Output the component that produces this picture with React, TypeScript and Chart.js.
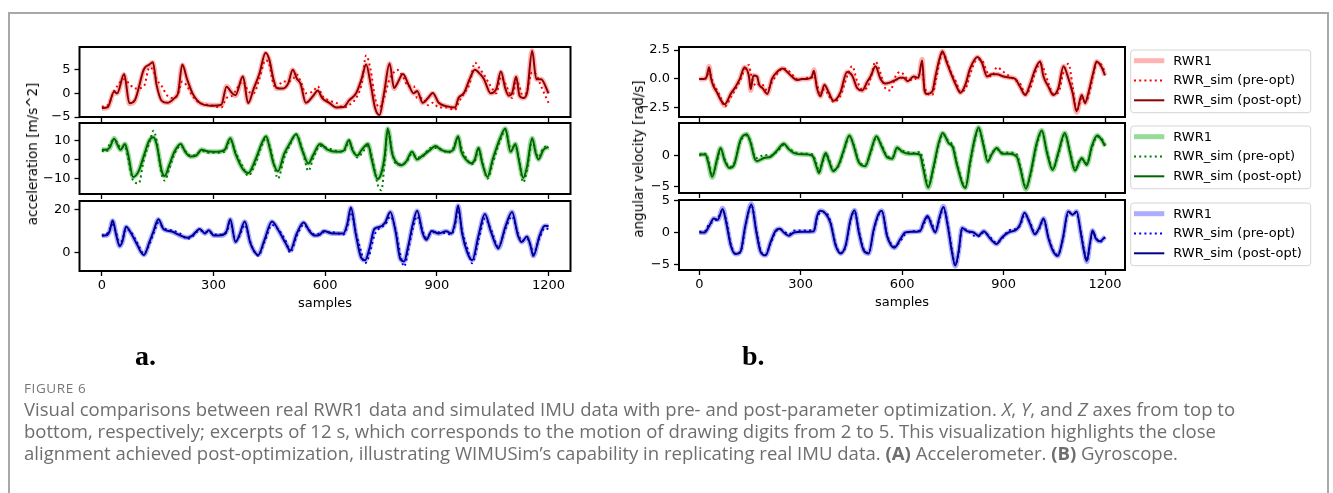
import React, { useEffect, useLayoutEffect, useRef, useState } from 'react';
import { Chart, registerables } from 'chart.js';

Chart.register(...registerables);

const W = 1333;
const H = 493;
const FONT = "'DejaVu Sans', 'Liberation Sans', sans-serif";
const X_MIN = -60;
const X_MAX = 1259;
const X_TICKS = [0, 300, 600, 900, 1200];
const LEGEND_LABELS = ['RWR1', 'RWR_sim (pre-opt)', 'RWR_sim (post-opt)'];

// ---------- (a) accelerometer, X axis ----------
const accXSamples = [0,16,33,41,60,74,89,113,128,137,
  147,161,176,195,205,216,229,243,263,292,
  321,335,350,359,379,393,408,423,440,450,
  461,470,485,500,513,524,534,548,568,580,
  592,611,630,650,664,683,698,710,722,734,
  746,758,773,785,793,809,823,838,847,862,
  876,889,905,925,949,958,973,988,1002,1017,
  1026,1045,1060,1072,1084,1093,1102,1113,1122,1132,
  1142,1156,1167,1180,1200];
const accXReal = [-3.2,-3.0,0.3,0.0,4.0,-2.2,-1.5,5.0,6.0,6.5,
  2.0,-1.5,-2.0,-1.0,0.2,6.0,3.0,0.0,-2.0,-2.5,
  -2.5,1.5,0.0,-0.5,3.5,-2.0,1.0,4.0,8.5,7.0,
  3.0,1.0,1.0,2.0,5.0,3.0,2.0,-2.0,-0.5,0.5,
  -1.0,-2.0,-3.0,-2.8,-1.5,0.0,3.0,6.0,2.0,-3.0,
  -4.5,0.0,6.3,1.0,2.0,4.0,2.0,0.0,0.5,-2.0,
  -1.0,0.0,-2.0,-2.7,-3.0,-1.0,0.0,3.0,5.0,4.0,
  3.0,0.0,1.0,4.5,1.0,-0.5,0.0,3.5,-0.5,-1.0,
  0.0,9.0,3.0,3.0,0.0];
const accXPre = [-2.8,-2.5,0.5,1.5,3.0,2.0,1.0,1.5,5.5,5.0,
  3.0,1.5,-0.5,-1.0,0.0,2.5,1.5,-0.5,-2.0,-2.5,
  -3.0,-1.0,-0.5,0.5,2.5,0.5,0.0,3.0,7.0,6.0,
  2.0,1.0,2.5,2.5,3.0,4.0,2.5,0.0,0.5,1.5,
  -0.5,-1.5,-2.0,-3.0,-2.5,-1.0,2.0,8.0,5.0,-1.0,
  -3.0,-1.0,3.0,4.5,5.0,3.5,1.5,1.5,-1.0,-1.0,
  -2.5,-2.0,-3.0,-3.0,-3.5,-2.0,0.0,2.0,6.5,5.0,
  4.0,1.5,0.0,3.5,2.0,0.5,-1.0,2.5,1.5,-1.0,
  0.5,4.5,4.0,1.5,-2.0];
const accXPost = [-3.1,-2.9,0.4,0.0,4.1,-2.1,-1.4,5.1,6.1,6.6,
  1.8,-1.6,-2.0,-1.0,0.1,6.1,3.0,0.1,-2.0,-2.6,
  -2.4,1.4,0.0,-0.4,3.6,-2.1,1.0,4.1,8.6,7.1,
  3.0,1.1,1.0,2.0,5.0,3.1,2.0,-2.0,-0.5,0.6,
  -1.0,-2.0,-3.0,-2.9,-1.5,0.0,3.1,6.1,2.0,-3.1,
  -4.6,0.0,6.3,1.1,2.0,4.1,2.0,0.0,0.5,-2.0,
  -1.0,0.1,-2.0,-2.7,-3.0,-1.0,0.1,3.0,5.0,4.0,
  3.1,0.0,1.0,4.6,1.0,-0.5,0.0,3.5,-0.5,-1.0,
  0.0,9.0,3.0,3.0,0.0];

// ---------- (a) accelerometer, Y axis ----------
const accYSamples = [0,12,21,33,41,50,62,70,84,99,
  113,128,139,147,161,169,181,195,212,224,
  239,253,268,287,311,330,345,359,379,393,
  413,429,441,451,461,473,490,504,522,538,
  555,567,586,606,630,649,664,673,686,698,
  715,725,741,751,760,768,780,789,804,818,
  833,847,862,882,896,911,930,944,957,966,
  978,993,1002,1012,1022,1036,1050,1070,1084,1098,
  1111,1120,1132,1142,1156,1166,1173,1186,1200];
const accYReal = [5.0,5.0,6.0,11.0,8.0,5.0,8.0,3.0,-9.0,-6.0,
  2.0,10.0,11.5,8.0,-6.0,-8.5,-3.0,4.0,8.0,4.0,
  1.5,2.0,5.0,4.0,4.0,5.0,11.0,3.0,-5.0,-7.0,
  0.0,8.0,12.0,6.0,-2.0,-6.0,3.0,8.0,13.0,5.0,
  -2.0,2.0,8.0,5.0,4.0,4.5,10.0,5.0,2.0,5.0,
  8.0,0.0,-10.0,-7.0,2.0,16.0,3.0,-1.0,-3.0,-1.0,
  4.0,0.0,2.0,5.0,7.0,5.0,4.0,5.0,12.0,4.0,
  0.0,-2.0,0.0,6.0,-2.0,-9.0,0.0,11.0,16.0,4.0,
  8.0,0.0,-9.5,-4.0,11.0,3.0,0.0,5.0,6.5];
const accYPre = [4.5,4.0,8.0,10.0,9.0,6.0,7.0,1.0,-11.0,-12.5,
  0.0,9.0,15.0,10.0,-8.0,-11.0,-5.0,3.0,7.0,4.5,
  2.0,2.5,4.5,3.5,3.5,4.0,10.0,4.0,-4.0,-8.5,
  -2.0,7.0,11.0,7.0,-1.0,-10.0,1.0,7.0,13.0,6.0,
  -6.0,0.0,7.0,6.0,4.5,4.0,9.0,6.0,1.0,3.0,
  7.0,2.0,-13.0,-16.0,-1.0,15.0,4.0,-2.0,-2.5,-1.5,
  3.0,1.0,1.5,6.0,6.0,5.5,3.5,6.0,11.0,6.0,
  1.0,-2.5,-1.0,5.0,-1.0,-10.0,-2.0,10.0,15.0,6.0,
  7.0,1.0,-12.0,-6.0,10.0,4.0,1.0,6.0,7.0];
const accYPost = [5.0,5.1,6.1,10.8,8.1,5.0,8.0,3.1,-9.2,-6.1,
  2.0,10.1,11.6,8.0,-6.1,-8.6,-3.0,4.0,8.1,4.0,
  1.5,2.0,5.0,4.1,4.0,5.0,11.1,3.0,-5.1,-7.1,
  0.0,8.1,12.1,6.0,-2.0,-6.1,3.0,8.0,13.1,5.0,
  -2.1,2.0,8.0,5.1,4.0,4.5,10.1,5.0,2.0,5.0,
  8.1,0.0,-10.2,-7.0,2.0,16.1,3.0,-1.0,-3.0,-1.0,
  4.0,0.0,2.0,5.0,7.0,5.0,4.0,5.0,12.1,4.0,
  0.0,-2.0,0.0,6.1,-2.0,-9.1,0.0,11.1,16.1,4.0,
  8.1,0.0,-9.6,-4.0,11.1,3.0,0.0,5.0,6.5];

// ---------- (a) accelerometer, Z axis ----------
const accZSamples = [0,12,21,29,39,48,55,65,79,94,
  113,128,139,152,166,186,210,229,243,263,
  277,287,301,321,335,345,359,369,384,398,
  408,420,437,457,476,495,506,524,542,558,
  572,586,596,620,649,659,669,683,696,707,
  719,732,746,761,775,789,802,812,823,835,
  847,862,872,886,905,925,939,949,957,968,
  982,995,1012,1029,1045,1065,1084,1102,1118,1128,
  1142,1152,1159,1176,1190,1200];
const accZReal = [8.0,8.0,10.0,15.0,8.0,3.0,5.0,12.0,9.0,4.0,
  -1.0,5.0,10.0,15.5,11.0,10.0,8.0,7.0,8.0,11.0,
  9.0,10.5,8.0,8.0,10.0,15.5,5.0,8.0,14.5,5.0,
  1.0,-1.0,6.0,14.5,10.0,4.0,1.0,9.0,14.0,10.0,
  8.0,8.5,10.0,9.0,9.0,13.0,21.0,8.0,-2.0,-3.5,
  2.0,11.0,12.0,14.0,19.0,10.0,-3.0,-4.0,3.0,13.0,
  19.5,9.0,6.0,10.0,9.0,10.0,9.0,14.0,22.0,9.0,
  0.0,-3.5,8.0,18.0,10.0,2.0,12.0,19.0,8.0,5.0,
  7.5,3.0,-1.5,8.0,12.5,12.5];
const accZPre = [8.0,8.5,11.0,13.0,9.0,3.5,6.0,11.0,9.5,5.0,
  -0.5,4.0,9.0,14.0,11.5,10.5,9.0,6.5,7.5,10.5,
  9.5,10.0,8.5,8.5,9.5,14.0,5.5,7.5,13.0,5.5,
  1.0,-1.5,5.0,13.0,10.5,5.0,0.0,8.0,13.0,10.5,
  8.5,9.0,9.5,9.5,8.5,12.0,19.0,9.0,1.0,-5.0,
  -1.0,8.0,11.5,13.0,17.0,11.0,-1.0,-6.5,1.0,11.0,
  17.0,10.0,7.0,9.5,9.5,9.0,8.5,13.0,20.0,10.0,
  2.0,-5.0,6.0,16.0,11.0,3.0,11.0,17.0,9.0,5.5,
  6.5,3.5,-0.5,7.0,11.5,11.0];
const accZPost = [8.0,8.1,10.1,15.1,8.0,3.0,5.1,12.1,9.0,4.0,
  -1.1,5.0,10.1,15.6,11.0,10.0,8.1,7.0,8.0,11.1,
  9.0,10.5,8.0,8.1,10.0,15.6,5.0,8.0,14.6,5.0,
  1.0,-1.1,6.0,14.6,10.0,4.0,1.0,9.1,14.1,10.0,
  8.0,8.5,10.1,9.0,9.0,13.1,21.1,8.0,-2.1,-3.6,
  2.0,11.1,12.0,14.1,19.1,10.0,-3.1,-4.1,3.0,13.1,
  19.6,9.0,6.0,10.1,9.0,10.0,9.0,14.1,22.1,9.0,
  0.0,-3.6,8.0,18.1,10.0,2.0,12.1,19.1,8.0,5.0,
  7.6,3.0,-1.6,8.0,12.6,12.5];

// ---------- (b) gyroscope, X axis ----------
const gyrXSamples = [0,14,22,29,35,43,53,63,75,93,
  107,120,134,147,152,160,171,177,187,201,
  215,230,247,260,274,289,304,319,333,339,
  348,358,370,380,397,417,437,452,467,482,
  496,508,521,536,550,565,580,594,604,616,
  634,648,659,666,673,689,699,711,719,731,
  744,760,772,787,801,823,836,851,865,880,
  900,919,934,949,964,979,993,1008,1018,1033,
  1047,1062,1077,1092,1104,1116,1131,1141,1150,1165,
  1175,1190,1200];
const gyrXReal = [0.0,0.0,0.2,1.1,0.0,-0.7,-1.2,-1.8,-2.3,-1.3,
  -0.7,0.0,1.0,0.2,-1.0,0.3,0.2,-0.5,-0.8,-1.3,
  0.0,0.6,0.9,0.6,0.2,-0.1,0.0,0.0,0.2,0.8,
  -0.8,-1.5,-0.5,-1.0,-1.9,-1.2,0.6,0.3,-0.8,-1.0,
  -0.3,0.3,1.1,0.0,-0.4,-0.3,-0.1,0.1,0.1,-0.2,
  0.2,0.1,1.7,-1.0,-1.3,-1.1,0.3,1.8,2.4,1.5,
  0.5,-0.6,-1.2,-0.5,0.9,1.9,1.4,0.2,0.4,0.4,
  0.2,0.1,0.0,-0.7,-1.4,-0.4,0.8,1.5,0.2,-0.7,
  -1.4,-0.8,1.1,0.0,-1.2,-2.9,-1.4,-2.1,-1.3,0.5,
  1.5,1.0,0.3];
const gyrXPre = [0.0,0.0,0.1,0.8,0.2,-0.5,-1.0,-1.6,-2.4,-1.6,
  -0.9,-0.2,0.8,1.2,0.5,-0.3,-0.6,-0.4,-0.5,-1.0,
  -0.3,0.4,0.9,0.8,0.4,0.0,0.0,0.1,0.1,0.3,
  -0.5,-1.2,-0.9,-1.3,-2.0,-1.5,0.2,1.1,-0.2,-0.9,
  -0.8,0.2,1.5,0.5,-0.8,-1.0,0.2,0.6,0.4,0.0,
  -0.1,0.3,0.5,-0.6,-1.2,-1.4,-0.2,1.5,2.2,1.7,
  0.6,-0.3,-1.1,-0.9,0.4,1.7,1.6,0.6,0.2,1.0,
  0.6,0.2,-0.1,-0.4,-1.3,-0.8,0.5,1.3,0.9,-0.4,
  -1.3,-1.2,0.6,1.3,-0.6,-2.8,-1.7,-2.0,-1.6,0.3,
  1.4,1.2,0.5];
const gyrXPost = [0.0,0.0,0.2,1.0,0.0,-0.7,-1.2,-1.8,-2.2,-1.3,
  -0.7,0.0,1.0,0.2,-0.9,0.3,0.2,-0.5,-0.8,-1.3,
  0.0,0.6,0.9,0.6,0.2,-0.1,0.0,0.0,0.2,0.7,
  -0.8,-1.5,-0.5,-1.0,-1.9,-1.2,0.6,0.3,-0.8,-1.0,
  -0.3,0.3,1.1,0.0,-0.4,-0.3,-0.1,0.1,0.1,-0.2,
  0.2,0.1,1.6,-1.0,-1.3,-1.1,0.3,1.8,2.4,1.5,
  0.5,-0.6,-1.2,-0.5,0.9,1.9,1.4,0.2,0.4,0.4,
  0.2,0.1,0.0,-0.7,-1.4,-0.4,0.8,1.5,0.2,-0.7,
  -1.4,-0.8,1.1,0.0,-1.2,-2.8,-1.4,-2.1,-1.3,0.5,
  1.5,1.0,0.3];

// ---------- (b) gyroscope, Y axis ----------
const gyrYSamples = [0,19,26,38,53,63,75,89,102,122,
  140,152,164,171,191,211,230,250,265,285,
  309,334,348,354,364,374,383,396,412,427,
  444,457,471,491,506,524,538,556,571,585,
  600,620,639,653,662,677,692,708,720,737,
  750,762,787,801,816,826,841,853,865,880,
  895,919,939,949,966,979,998,1013,1028,1045,
  1062,1081,1096,1111,1124,1131,1141,1146,1161,1177,
  1190,1200];
const gyrYReal = [0.2,0.1,-1.0,-3.5,-0.5,1.2,-0.8,-2.0,-1.6,2.5,
  3.4,2.0,-0.5,-0.9,-0.4,-0.2,0.8,1.9,1.0,0.3,
  0.2,0.0,-2.0,-2.8,-1.0,0.4,-0.8,-2.5,-1.5,0.8,
  3.2,1.5,-1.0,-1.7,0.5,3.1,1.6,-0.3,-0.5,1.3,
  0.6,0.3,0.3,0.1,-2.0,-5.2,-2.0,2.0,3.6,2.0,
  1.3,-1.5,-5.2,-1.0,3.0,4.5,1.5,-1.0,0.2,1.2,
  0.3,0.3,-0.2,-2.0,-5.4,-3.0,2.0,4.0,0.5,-2.3,
  0.5,3.6,0.5,-2.4,-1.0,-0.4,-1.2,-1.5,1.5,3.2,
  2.5,1.5];
const gyrYPre = [0.0,0.3,-0.6,-3.2,-0.8,1.0,-0.6,-1.8,-1.4,2.3,
  3.2,2.2,-0.2,-0.4,0.1,0.0,0.6,1.7,1.1,0.5,
  0.3,0.2,-1.6,-2.6,-1.2,0.2,-0.5,-2.3,-1.7,0.6,
  3.0,1.7,-0.8,-1.5,0.3,2.9,1.8,-0.1,-0.3,1.1,
  0.8,0.5,0.4,0.6,-1.0,-4.9,-2.3,1.7,3.4,2.3,
  1.6,-1.2,-5.0,-1.3,2.8,4.3,1.7,-0.8,0.4,1.0,
  0.5,0.5,0.2,-1.6,-5.1,-3.3,1.7,3.8,0.8,-2.1,
  0.2,3.4,0.8,-2.2,-0.8,-0.6,-1.0,-1.3,1.2,3.0,
  2.7,1.7];
const gyrYPost = [0.2,0.1,-1.0,-3.4,-0.5,1.2,-0.8,-2.0,-1.6,2.5,
  3.4,2.0,-0.5,-0.9,-0.4,-0.2,0.8,1.9,1.0,0.3,
  0.2,0.0,-2.0,-2.8,-1.0,0.4,-0.8,-2.5,-1.5,0.8,
  3.2,1.5,-1.0,-1.7,0.5,3.1,1.6,-0.3,-0.5,1.3,
  0.6,0.3,0.3,0.1,-2.0,-5.1,-2.0,2.0,3.6,2.0,
  1.3,-1.5,-5.2,-1.0,3.0,4.5,1.5,-1.0,0.2,1.2,
  0.3,0.3,-0.2,-2.0,-5.3,-3.0,2.0,4.0,0.5,-2.3,
  0.5,3.6,0.5,-2.4,-1.0,-0.4,-1.2,-1.5,1.5,3.2,
  2.5,1.5];

// ---------- (b) gyroscope, Z axis ----------
const gyrZSamples = [0,16,29,43,55,69,80,93,107,122,
  136,154,169,181,196,211,226,238,250,265,
  280,304,339,348,358,373,388,403,418,433,
  447,459,472,486,501,516,531,540,555,567,
  577,595,609,629,653,663,675,688,698,711,
  722,735,747,757,767,777,792,811,826,841,
  861,879,895,915,939,949,962,977,993,1006,
  1018,1033,1047,1060,1075,1091,1104,1116,1128,1138,
  1146,1156,1163,1173,1185,1200];
const gyrZReal = [0.0,0.0,1.0,2.2,2.0,3.8,1.5,-2.0,-3.4,-3.0,
  1.0,4.5,0.0,-3.0,-3.6,-1.5,0.3,0.6,0.0,-0.5,
  0.0,0.1,0.2,2.5,3.4,3.0,1.5,-2.0,-3.3,-2.0,
  2.0,3.5,0.0,-2.8,-3.3,0.5,3.0,3.4,-0.5,-2.0,
  -2.4,-1.0,0.0,0.1,0.2,1.5,2.6,1.0,0.0,2.5,
  4.1,1.0,-3.0,-5.3,-3.0,0.7,0.2,0.0,-0.5,0.2,
  -1.0,-1.8,-0.8,0.0,0.5,1.3,3.1,1.5,-0.3,0.8,
  2.2,-1.0,-3.0,-3.7,-1.0,3.3,2.8,3.3,0.0,-3.0,
  -4.6,-1.5,0.3,-1.0,-1.4,-0.7];
const gyrZPre = [0.1,0.2,1.3,1.7,2.2,3.5,1.8,-1.8,-3.3,-3.1,
  0.8,4.3,0.3,-2.8,-3.5,-1.7,0.1,0.5,0.2,-0.3,
  0.3,0.3,0.4,2.2,3.1,3.2,1.7,-1.8,-3.2,-2.2,
  1.8,3.3,0.3,-2.6,-3.2,0.3,2.8,3.2,-0.3,-1.8,
  -2.2,-1.3,-0.3,0.2,0.3,1.2,2.3,1.4,0.2,2.2,
  3.9,1.3,-2.7,-5.1,-3.2,0.5,0.4,-0.5,-0.6,0.0,
  -0.8,-1.6,-1.0,0.3,0.6,1.1,2.8,1.7,-0.1,0.6,
  2.0,-0.8,-2.8,-3.5,-1.2,3.1,3.1,3.0,0.3,-2.8,
  -4.4,-1.7,0.1,-0.8,-1.5,-0.8];
const gyrZPost = [0.0,0.0,1.0,2.2,2.0,3.7,1.5,-2.0,-3.4,-3.0,
  1.0,4.4,0.0,-3.0,-3.6,-1.5,0.3,0.6,0.0,-0.5,
  0.0,0.1,0.2,2.5,3.4,3.0,1.5,-2.0,-3.3,-2.0,
  2.0,3.5,0.0,-2.8,-3.3,0.5,3.0,3.4,-0.5,-2.0,
  -2.4,-1.0,0.0,0.1,0.2,1.5,2.6,1.0,0.0,2.5,
  4.0,1.0,-3.0,-5.2,-3.0,0.7,0.2,0.0,-0.5,0.2,
  -1.0,-1.8,-0.8,0.0,0.5,1.3,3.1,1.5,-0.3,0.8,
  2.2,-1.0,-3.0,-3.7,-1.0,3.3,2.8,3.3,0.0,-3.0,
  -4.5,-1.5,0.3,-1.0,-1.4,-0.7];

// ---------- y ticks ----------
const accXTicks = [-5, 0, 5];
const accYTicks = [-10, 0, 10];
const accZTicks = [0, 20];
const gyrXTicks = [-2.5, 0, 2.5];
const gyrYTicks = [-5, 0];
const gyrZTicks = [-5, 0, 5];

const RED = { light: 'rgba(255,0,0,0.3)', mid: '#ff0000', dark: '#8b0000' };
const GREEN = { light: 'rgba(40,180,40,0.48)', mid: '#008000', dark: '#006400' };
const BLUE = { light: 'rgba(0,0,255,0.32)', mid: '#0000ff', dark: '#00008b' };

type Sub = {
  xs: number[]; real: number[]; pre: number[]; post: number[];
  col: { light: string; mid: string; dark: string };
  yMin: number; yMax: number; yTicks: number[]; decimals: number;
  box: [number, number, number, number];
  bottom: boolean; legend: boolean;
};

const AL = 79.5, AR = 570.5, BL = 679, BR = 1125;
const SUBS: Sub[] = [
  { xs: accXSamples, real: accXReal, pre: accXPre, post: accXPost, col: RED, yMin: -5, yMax: 9.8, yTicks: accXTicks, decimals: 0, box: [AL, 47, AR, 117], bottom: false, legend: false },
  { xs: accYSamples, real: accYReal, pre: accYPre, post: accYPost, col: GREEN, yMin: -18, yMax: 19, yTicks: accYTicks, decimals: 0, box: [AL, 123, AR, 194], bottom: false, legend: false },
  { xs: accZSamples, real: accZReal, pre: accZPre, post: accZPost, col: BLUE, yMin: -8.6, yMax: 24.2, yTicks: accZTicks, decimals: 0, box: [AL, 201, AR, 271], bottom: true, legend: false },
  { xs: gyrXSamples, real: gyrXReal, pre: gyrXPre, post: gyrXPost, col: RED, yMin: -3.3, yMax: 2.76, yTicks: gyrXTicks, decimals: 1, box: [BL, 47, BR, 117], bottom: false, legend: true },
  { xs: gyrYSamples, real: gyrYReal, pre: gyrYPre, post: gyrYPost, col: GREEN, yMin: -6, yMax: 5.2, yTicks: gyrYTicks, decimals: 0, box: [BL, 123, BR, 193], bottom: false, legend: true },
  { xs: gyrZSamples, real: gyrZReal, pre: gyrZPre, post: gyrZPost, col: BLUE, yMin: -5.9, yMax: 5.1, yTicks: gyrZTicks, decimals: 0, box: [BL, 200, BR, 270], bottom: true, legend: true },
];

const fmt = (v: number, d: number) => {
  const s = Math.abs(v).toFixed(d);
  return v < 0 ? '\u2212' + s : s;
};

const framePlugin = {
  id: 'frame',
  afterDraw(chart: any) {
    const { ctx, chartArea } = chart;
    const { left, top, right, bottom } = chartArea;
    ctx.save();
    ctx.strokeStyle = '#000';
    ctx.lineWidth = 2;
    ctx.strokeRect(left, top, right - left, bottom - top);
    ctx.restore();
  },
};

const boxLegendPlugin = {
  id: 'boxLegend',
  afterDraw(chart: any, _args: any, opts: any) {
    if (!opts || !opts.show) return;
    const { ctx, chartArea } = chart;
    const x = chartArea.right + 5.7;
    const y = chartArea.top + 3;
    const w = 180;
    const h = 62.7;
    const r = 3;
    ctx.save();
    ctx.beginPath();
    ctx.moveTo(x + r, y);
    ctx.lineTo(x + w - r, y);
    ctx.arcTo(x + w, y, x + w, y + r, r);
    ctx.lineTo(x + w, y + h - r);
    ctx.arcTo(x + w, y + h, x + w - r, y + h, r);
    ctx.lineTo(x + r, y + h);
    ctx.arcTo(x, y + h, x, y + h - r, r);
    ctx.lineTo(x, y + r);
    ctx.arcTo(x, y, x + r, y, r);
    ctx.closePath();
    ctx.fillStyle = 'rgba(255,255,255,0.8)';
    ctx.fill();
    ctx.strokeStyle = '#d4d4d4';
    ctx.lineWidth = 1;
    ctx.stroke();
    const items = [...chart.data.datasets].sort((a: any, b: any) => b.order - a.order);
    items.forEach((ds: any, i: number) => {
      const cy = y + 10.7 + i * 19.8;
      ctx.beginPath();
      ctx.setLineDash(ds.borderDash || []);
      ctx.strokeStyle = ds.borderColor;
      ctx.lineWidth = ds.borderWidth;
      ctx.lineCap = 'butt';
      ctx.moveTo(x + 3.3, cy);
      ctx.lineTo(x + 33.6, cy);
      ctx.stroke();
      ctx.setLineDash([]);
      ctx.fillStyle = '#000';
      ctx.font = `13px ${FONT}`;
      ctx.textBaseline = 'middle';
      ctx.textAlign = 'left';
      ctx.fillText(ds.label, x + 42.6, cy + 0.5);
    });
    ctx.restore();
  },
};

function SubChart({ sub }: { sub: Sub }) {
  const ref = useRef<HTMLCanvasElement>(null);
  useEffect(() => {
    const [l, t, r, b] = sub.box;
    const xH = sub.bottom ? 40 : 6;
    const pts = (ys: number[]) => sub.xs.map((x, i) => ({ x, y: ys[i] }));
    const tickFont = { family: FONT, size: 13 };
    const chart = new Chart(ref.current as HTMLCanvasElement, {
      type: 'line',
      data: {
        datasets: [
          { label: LEGEND_LABELS[2], data: pts(sub.post), borderColor: sub.col.dark, borderWidth: 2, pointRadius: 0, order: 0, cubicInterpolationMode: 'monotone' },
          { label: LEGEND_LABELS[1], data: pts(sub.pre), borderColor: sub.col.mid, borderWidth: 2, borderDash: [2, 3.2], pointRadius: 0, order: 1, cubicInterpolationMode: 'monotone' },
          { label: LEGEND_LABELS[0], data: pts(sub.real), borderColor: sub.col.light, borderWidth: 5, pointRadius: 0, order: 2, cubicInterpolationMode: 'monotone' },
        ] as any,
      },
      options: {
        animation: false,
        responsive: false,
        devicePixelRatio: 1,
        events: [],
        layout: { padding: { left: 0, top: t, right: W - r, bottom: H - b - xH } },
        scales: {
          x: {
            type: 'linear',
            min: X_MIN,
            max: X_MAX,
            afterBuildTicks: (s: any) => { s.ticks = X_TICKS.map((v) => ({ value: v })); },
            afterFit: (s: any) => { s.height = xH; },
            grid: { display: true, drawOnChartArea: false, drawTicks: true, tickLength: 5, tickWidth: 1.3, tickColor: '#000', color: '#000' },
            border: { display: false },
            ticks: { display: sub.bottom, font: tickFont, color: '#000', padding: 2, maxRotation: 0, autoSkip: false, callback: (v: any) => String(v) },
            title: { display: sub.bottom, text: 'samples', font: tickFont, color: '#000', padding: 0 },
          },
          y: {
            type: 'linear',
            min: sub.yMin,
            max: sub.yMax,
            afterBuildTicks: (s: any) => { s.ticks = sub.yTicks.map((v) => ({ value: v })); },
            afterFit: (s: any) => { s.width = l; },
            grid: { display: true, drawOnChartArea: false, drawTicks: true, tickLength: 5, tickWidth: 1.3, tickColor: '#000', color: '#000' },
            border: { display: false },
            ticks: { font: tickFont, color: '#000', padding: 4, autoSkip: false, callback: (v: any) => fmt(Number(v), sub.decimals) },
          },
        },
        plugins: {
          legend: { display: false },
          tooltip: { enabled: false },
          boxLegend: { show: sub.legend },
        } as any,
      } as any,
      plugins: [framePlugin, boxLegendPlugin],
    });
    return () => chart.destroy();
  }, [sub]);
  return (
    <canvas
      ref={ref}
      width={W}
      height={H}
      style={{ position: 'absolute', left: 0, top: 0, width: W, height: H }}
    />
  );
}

const CAPTION_1 = 'Visual comparisons between real RWR1 data and simulated IMU data with pre- and post-parameter optimization. ';
const CAPTION_2 = 'bottom, respectively; excerpts of 12 s, which corresponds to the motion of drawing digits from 2 to 5. This visualization highlights the close';
const CAPTION_3 = 'alignment achieved post-optimization, illustrating WIMUSim\u2019s capability in replicating real IMU data. ';

export default function App() {
  const lineRef = useRef<HTMLSpanElement>(null);
  const [capSize, setCapSize] = useState(16);
  useLayoutEffect(() => {
    if (lineRef.current) {
      const w = lineRef.current.getBoundingClientRect().width;
      if (w > 0) setCapSize(16 * 1212 / w);
    }
  }, []);

  const capStyle = (top: number): React.CSSProperties => ({
    position: 'absolute', left: 24, top, whiteSpace: 'nowrap',
    fontFamily: "'Open Sans', 'Noto Sans', sans-serif", fontSize: capSize,
    lineHeight: '22px', color: '#6e6e6e',
  });

  return (
    <div style={{ position: 'absolute', left: 0, top: 0, width: W, height: H, background: '#fff', overflow: 'hidden' }}>
      <div style={{ position: 'absolute', left: 8, top: 12, width: 1321, height: 520, border: '2px solid #a8a8a8', boxSizing: 'border-box' }} />
      {SUBS.map((s, i) => <SubChart key={i} sub={s} />)}
      <div style={{ position: 'absolute', left: 32, top: 154, transform: 'translate(-50%,-50%) rotate(-90deg)', whiteSpace: 'nowrap', fontFamily: FONT, fontSize: 13.5, color: '#000' }}>acceleration [m/s^2]</div>
      <div style={{ position: 'absolute', left: 638, top: 159, transform: 'translate(-50%,-50%) rotate(-90deg)', whiteSpace: 'nowrap', fontFamily: FONT, fontSize: 13.5, color: '#000' }}>angular velocity [rad/s]</div>
      <div style={{ position: 'absolute', left: 135, top: 340, fontFamily: "'Liberation Serif', serif", fontWeight: 'bold', fontSize: 28, lineHeight: '32px', color: '#000' }}>a.</div>
      <div style={{ position: 'absolute', left: 742, top: 340, fontFamily: "'Liberation Serif', serif", fontWeight: 'bold', fontSize: 28, lineHeight: '32px', color: '#000' }}>b.</div>
      <div style={{ position: 'absolute', left: 24, top: 380, fontFamily: "'Open Sans', 'Noto Sans', sans-serif", fontSize: 13.5, letterSpacing: 0.6, lineHeight: '16px', color: '#777777' }}>FIGURE 6</div>
      <div style={capStyle(398)}>
        <span ref={lineRef}>{CAPTION_1}<i>X</i>, <i>Y</i>, and <i>Z</i> axes from top to</span>
      </div>
      <div style={capStyle(420)}>{CAPTION_2}</div>
      <div style={capStyle(442)}>{CAPTION_3}<b>(A)</b> Accelerometer. <b>(B)</b> Gyroscope.</div>
    </div>
  );
}
